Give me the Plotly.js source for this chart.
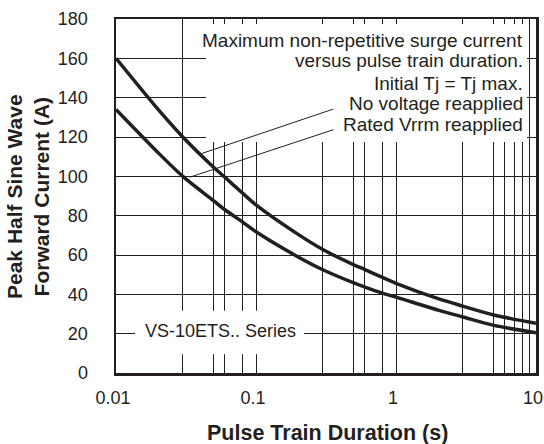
<!DOCTYPE html>
<html><head><meta charset="utf-8">
<script src="https://cdn.plot.ly/plotly-3.0.1.min.js"></script>
<style>html,body{margin:0;padding:0;background:#fff}#chart{width:544px;height:444px}</style>
</head><body><div id="chart"></div>
<script>
// Pulse train duration (s)
const duration = [0.01, 0.02, 0.03, 0.05, 0.06, 0.08, 0.1, 0.2, 0.3, 0.5, 0.6, 0.8, 1, 2, 3, 5, 10];
// Peak half sine wave forward current (A)
const noVoltageReapplied = [160, 134, 120, 104.5, 99.5, 91.5, 85.5, 70.5, 62.8, 55, 52.6, 48.6, 45.6, 37.8, 34, 29.5, 25.3];
const ratedVrrmReapplied = [134, 112, 100, 87.5, 83, 76.8, 71.8, 59, 52.5, 45.8, 43.7, 40.6, 38.6, 32, 28.5, 24.2, 20.5];

// grid / ticks
const xGrid = [0.01, 0.03, 0.05, 0.06, 0.08, 0.1, 0.3, 0.5, 0.6, 0.8, 1, 3, 5, 6, 7, 8, 9, 10];
const xLabelled = {"0.01": "0.01", "0.1": "0.1", "1": "1", "10": "10"};
const yTicks = [0, 20, 40, 60, 80, 100, 120, 140, 160, 180];

// leader lines (from curve to note text), data coordinates
const leaderNoVoltageX = [0.0398, 0.3565];
const leaderNoVoltageY = [111.3, 134.2];
const leaderRatedX = [0.0338, 0.3565];
const leaderRatedY = [99.6, 123.7];

const noteLines = [
  "Maximum non-repetitive surge current",
  "versus pulse train duration.",
  "Initial Tj = Tj max.",
  "No voltage reapplied",
  "Rated Vrrm reapplied"
];
const seriesLabel = "VS-10ETS.. Series";
const xTitle = "Pulse Train Duration (s)";
const yTitleLines = ["Peak Half Sine Wave", "Forward Current (A)"];

const ink = "#231f20";
const FONT = "Liberation Sans, Arial, Helvetica, sans-serif";

// plot area geometry (px) used to convert pixel positions to paper coords
const L = 116, T = 19, W = 420, H = 354;
const px = v => (v - L) / W;
const py = v => (T + H - v) / H;

const traces = [
  {x: duration, y: noVoltageReapplied, mode: "lines", line: {color: ink, width: 3.5, shape: "spline", smoothing: 0.8}, hoverinfo: "skip", showlegend: false},
  {x: duration, y: ratedVrrmReapplied, mode: "lines", line: {color: ink, width: 3.5, shape: "spline", smoothing: 0.8}, hoverinfo: "skip", showlegend: false}
];

const noteY = [40.5, 60.8, 83, 103.5, 124.2];
const annotations = noteLines.map((t, i) => ({
  text: t, xref: "paper", yref: "paper", x: px(524.5), y: py(noteY[i]),
  xanchor: "right", yanchor: "middle", showarrow: false,
  font: {family: FONT, size: 19, color: ink}
}));
annotations.push({
  text: seriesLabel, xref: "paper", yref: "paper", x: px(220), y: py(330.5),
  xanchor: "center", yanchor: "middle", showarrow: false,
  font: {family: FONT, size: 18, color: ink}
});
annotations.push({
  text: "<b>" + xTitle + "</b>", xref: "paper", yref: "paper", x: px(327), y: py(432.5),
  xanchor: "center", yanchor: "middle", showarrow: false,
  font: {family: FONT, size: 21.5, color: ink}
});
annotations.push({
  text: "<b>" + yTitleLines[0] + "</b><br><b>" + yTitleLines[1] + "</b>", xref: "paper", yref: "paper",
  x: px(28), y: py(197), textangle: -90,
  xanchor: "center", yanchor: "middle", showarrow: false,
  font: {family: FONT, size: 21, color: ink}
});

const shapes = [
  {type: "rect", xref: "paper", yref: "paper", x0: px(206), x1: px(527), y0: py(142), y1: py(24),
   fillcolor: "#fff", line: {width: 0}, layer: "above"},
  {type: "rect", xref: "paper", yref: "paper", x0: px(135), x1: px(304), y0: py(354.3), y1: py(310.7),
   fillcolor: "#fff", line: {width: 0}, layer: "above"},
  {type: "line", xref: "x", yref: "y", x0: leaderNoVoltageX[0], x1: leaderNoVoltageX[1],
   y0: leaderNoVoltageY[0], y1: leaderNoVoltageY[1], line: {color: ink, width: 1}, layer: "above"},
  {type: "line", xref: "x", yref: "y", x0: leaderRatedX[0], x1: leaderRatedX[1],
   y0: leaderRatedY[0], y1: leaderRatedY[1], line: {color: ink, width: 1}, layer: "above"}
];

const layout = {
  width: 544, height: 444,
  margin: {l: L, r: 544 - L - W, t: T, b: 444 - T - H, pad: 0},
  paper_bgcolor: "#fff", plot_bgcolor: "#fff",
  font: {family: FONT, size: 18, color: ink},
  showlegend: false,
  xaxis: {
    type: "log", range: [-2, 1], tickmode: "array",
    tickvals: xGrid, ticktext: xGrid.map(v => xLabelled[String(v)] || ""),
    showgrid: true, gridcolor: ink, gridwidth: 1,
    showline: true, linecolor: ink, linewidth: 2.5, mirror: true,
    ticks: "", zeroline: false, ticklabelstandoff: 7, ticklabelshift: -3,
    tickfont: {family: FONT, size: 18, color: ink}, fixedrange: true
  },
  yaxis: {
    range: [0, 180], tickmode: "array", tickvals: yTicks, ticktext: yTicks.map(String),
    showgrid: true, gridcolor: ink, gridwidth: 1,
    showline: true, linecolor: ink, linewidth: 2.5, mirror: true,
    ticks: "outside", ticklen: 22, tickcolor: "rgba(0,0,0,0)", zeroline: false,
    tickfont: {family: FONT, size: 18, color: ink}, fixedrange: true
  },
  annotations: annotations,
  shapes: shapes
};

Plotly.newPlot("chart", traces, layout, {displayModeBar: false, staticPlot: true});
</script>
</body></html>
